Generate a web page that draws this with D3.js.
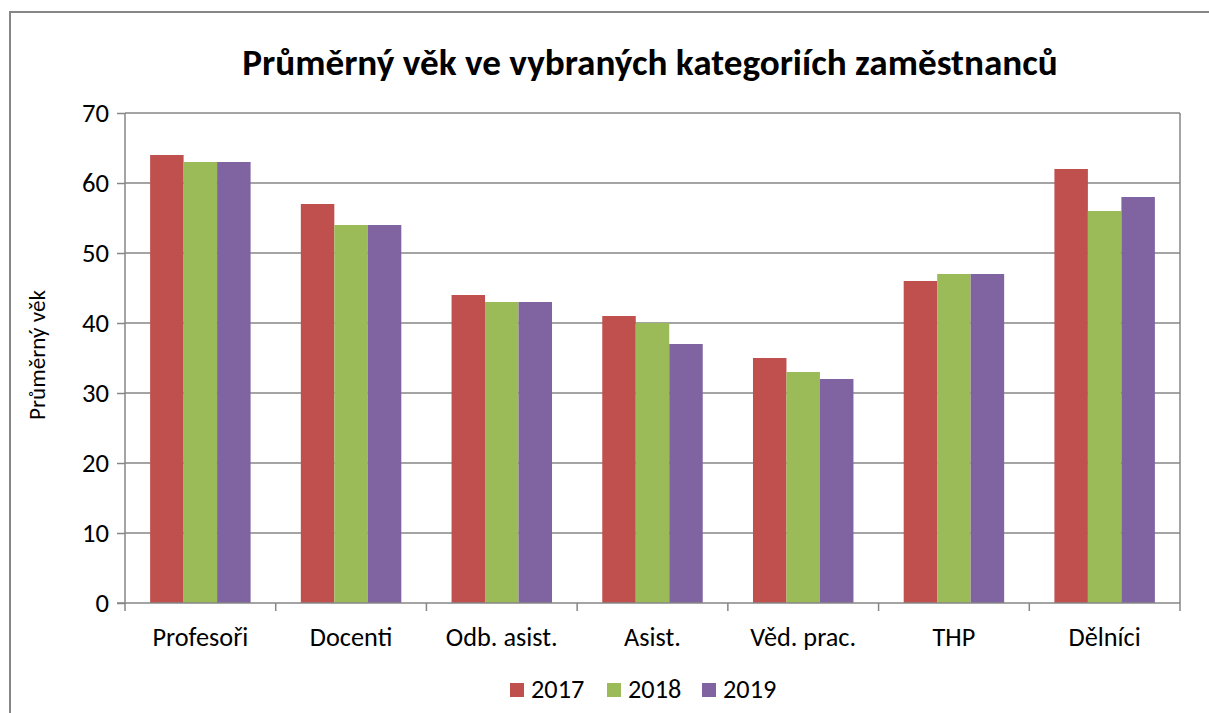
<!DOCTYPE html>
<html><head><meta charset="utf-8">
<script src="https://cdn.jsdelivr.net/npm/d3@7"></script>
<style>body{margin:0;background:#fff}svg{display:block}text{font-family:Carlito,"Open Sans","Noto Sans",sans-serif}</style>
</head><body>
<script>
const categories = ["Profesoři","Docenti","Odb. asist.","Asist.","Věd. prac.","THP","Dělníci"];
const seriesNames = ["2017","2018","2019"];
const values2017 = [64,57,44,41,35,46,62];
const values2018 = [63,54,43,40,33,47,56];
const values2019 = [63,54,43,37,32,47,58];
const yTicks = [0,10,20,30,40,50,60,70];
const colors = ["#c0504d","#9bbb59","#8064a2"];
const title = "Průměrný věk ve vybraných kategoriích zaměstnanců";
const yTitle = "Průměrný věk";

const W=1209,H=713;
const svg=d3.select("body").append("svg").attr("width",W).attr("height",H);
svg.append("rect").attr("x",10).attr("y",12).attr("width",W+10).attr("height",H+10)
  .attr("fill","#fff").attr("stroke","#868686").attr("stroke-width",2);

const L=125,R=1180,T=113,B=603;
const x=d3.scaleBand().domain(categories).range([L,R]).paddingInner(1/3).paddingOuter(1/6);
const xs=d3.scaleBand().domain(seriesNames).range([0,x.bandwidth()]);
const y=d3.scaleLinear().domain([0,70]).range([B,T]);

// fit text to a target width by adjusting font size
function fit(sel, target){
  const w=sel.node().getComputedTextLength();
  const fs=parseFloat(sel.style("font-size"));
  if(w>0) sel.style("font-size",(fs*target/w)+"px");
}

svg.append("g").selectAll("line").data(yTicks.filter(d=>d>0)).join("line")
  .attr("x1",L).attr("x2",R).attr("y1",d=>y(d)).attr("y2",d=>y(d))
  .attr("stroke","#868686").attr("stroke-width",1.5);
svg.append("line").attr("x1",R).attr("x2",R).attr("y1",T).attr("y2",B).attr("stroke","#868686").attr("stroke-width",1.5);

const series=[values2017,values2018,values2019];
series.forEach((vals,si)=>{
  svg.append("g").selectAll("rect").data(categories).join("rect")
    .attr("x",c=>x(c)+xs(seriesNames[si]))
    .attr("width",xs.bandwidth())
    .attr("y",(c,i)=>y(vals[i]))
    .attr("height",(c,i)=>B-y(vals[i]))
    .attr("fill",colors[si]);
});

const ya=svg.append("g").attr("transform",`translate(${L},0)`)
  .call(d3.axisLeft(y).tickValues(yTicks).tickSize(8).tickPadding(8));
ya.attr("font-size",null).attr("font-family",null);
ya.select(".domain").attr("stroke","#868686").attr("stroke-width",1.5).attr("d",`M0,${T}V${B}`);
ya.selectAll(".tick line").attr("stroke","#868686").attr("stroke-width",1.5);
ya.selectAll(".tick text").style("font-size","20px").attr("fill","#000");
ya.selectAll(".tick text").each(function(d){ if(d===70) fit(d3.select(this),27); });
const yfs=ya.selectAll(".tick text").filter(d=>d===70).style("font-size");
ya.selectAll(".tick text").style("font-size",yfs);

const xa=svg.append("g").attr("transform",`translate(0,${B})`);
const bounds=categories.map(c=>x(c)-x.step()*x.paddingInner()/2).concat([R]);
xa.append("line").attr("x1",L-8).attr("x2",R).attr("y1",0).attr("y2",0).attr("stroke","#868686").attr("stroke-width",1.5);
xa.selectAll("line.t").data(bounds).join("line").attr("class","t")
  .attr("x1",d=>d).attr("x2",d=>d).attr("y1",0).attr("y2",8).attr("stroke","#868686").attr("stroke-width",1.5);
const xl=xa.selectAll("text").data(categories).join("text")
  .attr("x",c=>x(c)+x.bandwidth()/2).attr("y",43).attr("text-anchor","middle")
  .style("font-size","20px").text(d=>d);
fit(xl.filter((d,i)=>i===0),96);
xl.style("font-size",xl.filter((d,i)=>i===0).style("font-size"));

const yt=svg.append("text").attr("transform","translate(45,355) rotate(-90)").attr("text-anchor","middle")
  .style("font-size","20px").text(yTitle);
fit(yt,130);

const tt=svg.append("text").attr("x",650).attr("y",75).attr("text-anchor","middle")
  .style("font-size","30px").style("font-weight","bold").text(title);
fit(tt,816);

const lg=svg.append("g");
const lx=[510,607,702];
seriesNames.forEach((s,i)=>{
  lg.append("rect").attr("x",lx[i]).attr("y",683).attr("width",14).attr("height",14).attr("fill",colors[i]);
  const t=lg.append("text").attr("x",lx[i]+21).attr("y",698).style("font-size",xl.style("font-size")).text(s);
});
</script>
</body></html>
